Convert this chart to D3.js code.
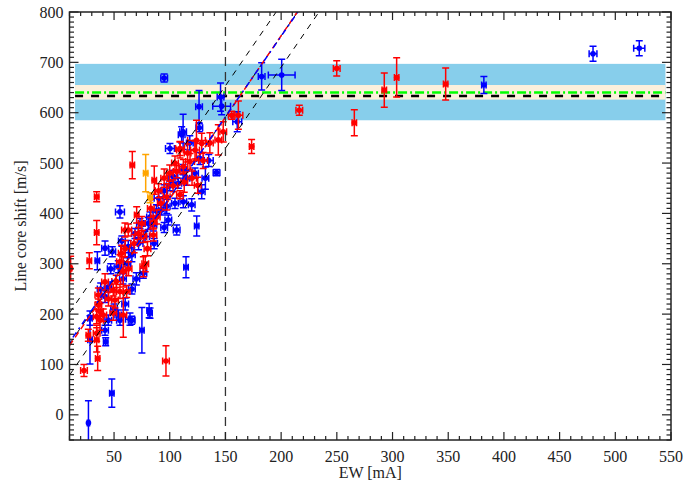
<!DOCTYPE html>
<html>
<head>
<meta charset="utf-8">
<script src="https://cdn.jsdelivr.net/npm/d3@7"></script>
<style>
  body { margin: 0; background: #fff; }
  text { font-family: "Liberation Serif", "DejaVu Serif", serif; }
</style>
</head>
<body>
<div id="chart"></div>
<script>
// EW vs line core shift
// each point: [EW, shift, EW error, shift error]
const bluePoints = [
  [95, 669, 3, 8], [182.5, 672, 3, 27], [200.5, 675, 12, 31], [382, 655, 2, 17],
  [480, 717, 3.5, 15], [521.5, 728, 5, 15], [27, -16, 1, 44], [48, 43, 2, 28],
  [75, 168, 2, 45], [81.5, 207, 2, 14], [82.3, 202, 2, 10], [114.6, 293, 2, 21],
  [64.3, 190, 4, 12], [124.2, 375, 2, 20], [142, 481, 3, 6], [145.6, 631, 3, 28],
  [146.6, 613, 8, 17], [126.3, 612, 3, 32], [126.5, 570, 3, 8], [112, 562, 3, 35],
  [160.6, 582, 4, 20], [100.2, 529, 4, 10],
  [92.8, 407, 3, 10], [82.3, 393, 3, 10], [80.7, 380, 3, 12], [98.7, 387, 3, 10],
  [104.7, 420, 3, 10], [112.2, 423, 3, 12], [107.7, 460, 3, 10], [103.2, 473, 4, 12],
  [122.7, 480, 3, 10], [128.7, 443, 3, 14], [127.2, 509, 3, 12], [110.7, 556, 3, 16],
  [119.7, 417, 3, 12], [97.3, 414, 3, 14], [106.2, 367, 3, 10], [77.8, 354, 4, 10],
  [55.3, 403, 4, 12], [73.3, 380, 3, 10], [85.3, 377, 3, 12], [95, 372, 3, 10],
  [68.8, 360, 3, 10], [62.8, 334, 3, 12], [48.4, 324, 3, 10], [41.9, 331, 3, 14],
  [35, 306, 2, 18], [76.3, 281, 3, 10], [53.8, 294, 3, 12], [44.8, 254, 3, 10],
  [41.9, 235, 3, 12], [28.4, 192, 2, 14], [44.8, 188, 3, 10], [53.8, 198, 3, 10],
  [65.8, 188, 3, 8], [55.3, 188, 3, 10], [41.9, 168, 3, 10], [42.5, 145, 2, 8],
  [28.4, 149, 2, 48], [60, 220, 3, 12], [66, 250, 3, 10], [70, 270, 3, 12],
  [58, 270, 3, 10], [62, 300, 3, 12], [66, 318, 3, 14], [72, 340, 4, 12],
  [88, 405, 3, 12], [90, 430, 4, 14], [95, 445, 3, 12], [100, 455, 3, 10],
  [115, 470, 3, 14], [118, 540, 3, 14], [112, 487, 3, 10], [132, 470, 3, 22],
  [135, 505, 4, 12], [86, 340, 3, 10], [50, 210, 3, 10], [38, 250, 3, 12],
  [47, 290, 3, 10], [57, 345, 3, 10]
];
const redPoints = [
  [11, 291, 1, 24], [27.8, 306, 2, 16], [23, 88, 3, 12], [34.4, 433, 2, 10],
  [34.4, 362, 2, 24], [96.6, 107, 3, 30], [26.9, 158, 2, 12], [35.3, 112, 2, 24],
  [34.4, 149, 2, 24], [66.4, 496, 2, 27], [86.1, 466, 2, 28], [70.3, 397, 2, 16],
  [62.8, 367, 3, 12], [97.3, 433, 3, 26], [88.3, 393, 3, 14], [85.3, 383, 3, 12],
  [109.2, 437, 3, 8], [106.2, 483, 3, 12], [112.2, 493, 4, 14], [118.2, 503, 4, 16],
  [125.1, 456, 3, 16], [104.7, 500, 3, 14], [109.2, 526, 3, 16], [122.7, 526, 4, 18],
  [128.7, 539, 6, 20], [85.3, 357, 3, 12], [71.8, 360, 3, 12], [124, 545, 8, 40],
  [148, 562, 3, 20], [143.6, 546, 3, 30], [109.2, 529, 4, 14], [155.6, 595, 3, 8],
  [161.6, 595, 4, 28], [173.5, 533, 2, 14], [216.3, 605, 3, 10], [249.9, 688, 3, 15],
  [265.7, 580, 2, 26], [292.6, 645, 2, 34], [303.7, 670, 2, 39], [347.7, 657, 2, 32],
  [56.9, 321, 3, 16], [59.8, 367, 3, 14], [76.3, 354, 3, 12], [76.3, 294, 3, 20],
  [58.3, 284, 3, 30], [55.3, 304, 3, 14], [41.9, 264, 3, 16], [49.3, 248, 3, 12],
  [55.3, 245, 3, 14], [61.3, 245, 3, 12], [50.8, 228, 3, 16], [35.9, 238, 3, 14],
  [35.9, 218, 3, 12], [37.4, 205, 3, 16], [34.4, 195, 3, 14], [37.4, 188, 3, 20],
  [49.3, 202, 3, 14], [58.3, 198, 3, 44], [40.3, 198, 3, 12], [34.4, 162, 3, 16],
  [45, 230, 3, 14], [52, 265, 4, 12], [63, 290, 3, 14], [60, 330, 4, 16],
  [68, 340, 3, 18], [78, 300, 3, 16], [80, 330, 3, 14], [90, 445, 3, 14],
  [95, 470, 3, 18], [100, 480, 3, 16], [103, 455, 4, 12], [113, 462, 3, 20],
  [120, 470, 4, 14], [116, 520, 3, 18], [92, 420, 3, 12], [83, 410, 3, 18],
  [75, 380, 3, 14], [130, 505, 4, 16], [136, 540, 3, 20]
];
const orangePoints = [
  [78.4, 480, 2, 37], [82.3, 431, 2, 10]
];

// horizontal bands and mean levels
const bandEW = [15, 545];
const outerBand = [585, 697];
const innerBand = [626, 655];
const greenLevel = 640;
const blackLevel = 633;

// linear relations: [slope, intercept]
const fitBlack = [[3.22, 170.5], [3.22, 108.5], [3.22, 46.5]];
const fitRed = [3.24, 105];
const fitBlue = [3.2, 112];
const fitEW = [10, 300];
const ewCut = 150;

const xTicks = [50, 100, 150, 200, 250, 300, 350, 400, 450, 500, 550];
const yTicks = [0, 100, 200, 300, 400, 500, 600, 700, 800];

const svgWidth = 694, svgHeight = 481;
const margin = { top: 12, right: 23, bottom: 41, left: 69.5 };
const width = svgWidth - margin.left - margin.right;
const height = svgHeight - margin.top - margin.bottom;

const svg = d3.select("#chart").append("svg")
    .attr("width", svgWidth)
    .attr("height", svgHeight)
    .append("g")
    .attr("transform", `translate(${margin.left},${margin.top})`);

const x = d3.scaleLinear().domain([10, 550]).range([0, width]);
const y = d3.scaleLinear().domain([-50, 800]).range([height, 0]);

svg.append("clipPath").attr("id", "clip")
    .append("rect").attr("width", width).attr("height", height);

const plot = svg.append("g").attr("clip-path", "url(#clip)");

// bands
plot.append("rect")
    .attr("x", x(bandEW[0])).attr("width", x(bandEW[1]) - x(bandEW[0]))
    .attr("y", y(outerBand[1])).attr("height", y(outerBand[0]) - y(outerBand[1]))
    .attr("fill", "#87ceeb");
plot.append("rect")
    .attr("x", x(bandEW[0])).attr("width", x(bandEW[1]) - x(bandEW[0]))
    .attr("y", y(innerBand[1])).attr("height", y(innerBand[0]) - y(innerBand[1]))
    .attr("fill", "#fcf0dc");

plot.append("line")
    .attr("x1", x(bandEW[0])).attr("x2", x(bandEW[1]))
    .attr("y1", y(blackLevel)).attr("y2", y(blackLevel))
    .attr("stroke", "#000").attr("stroke-width", 2.5).attr("stroke-dasharray", "8,8");
plot.append("line")
    .attr("x1", x(bandEW[0])).attr("x2", x(bandEW[1]))
    .attr("y1", y(greenLevel)).attr("y2", y(greenLevel))
    .attr("stroke", "#00ff00").attr("stroke-width", 2.5).attr("stroke-dasharray", "9,3,2,3");

// error bar points
function drawPoints(data, color) {
    const g = plot.append("g").selectAll("g").data(data).enter().append("g")
        .attr("stroke", color).attr("fill", color).attr("stroke-width", 1.5);
    const cap = 3.5;
    g.append("line")
        .attr("x1", d => x(d[0])).attr("x2", d => x(d[0]))
        .attr("y1", d => y(d[1] - d[3])).attr("y2", d => y(d[1] + d[3]));
    g.append("line")
        .attr("x1", d => x(d[0]) - cap).attr("x2", d => x(d[0]) + cap)
        .attr("y1", d => y(d[1] - d[3])).attr("y2", d => y(d[1] - d[3]));
    g.append("line")
        .attr("x1", d => x(d[0]) - cap).attr("x2", d => x(d[0]) + cap)
        .attr("y1", d => y(d[1] + d[3])).attr("y2", d => y(d[1] + d[3]));
    g.append("line")
        .attr("x1", d => x(d[0] - d[2])).attr("x2", d => x(d[0] + d[2]))
        .attr("y1", d => y(d[1])).attr("y2", d => y(d[1]));
    g.append("line")
        .attr("x1", d => x(d[0] - d[2])).attr("x2", d => x(d[0] - d[2]))
        .attr("y1", d => y(d[1]) - cap).attr("y2", d => y(d[1]) + cap);
    g.append("line")
        .attr("x1", d => x(d[0] + d[2])).attr("x2", d => x(d[0] + d[2]))
        .attr("y1", d => y(d[1]) - cap).attr("y2", d => y(d[1]) + cap);
    g.append("circle")
        .attr("cx", d => x(d[0])).attr("cy", d => y(d[1])).attr("r", 2.8)
        .attr("stroke", "none");
}
drawPoints(bluePoints, "#0000ff");
drawPoints(redPoints, "#ff0000");
drawPoints(orangePoints, "#ffa500");

// fit lines
const fitLine = (f, color, dash, w) => plot.append("line")
    .attr("x1", x(fitEW[0])).attr("y1", y(f[0] * fitEW[0] + f[1]))
    .attr("x2", x(fitEW[1])).attr("y2", y(f[0] * fitEW[1] + f[1]))
    .attr("stroke", color).attr("stroke-width", w).attr("stroke-dasharray", dash);
fitBlack.forEach(f => fitLine(f, "#000", "6,6", 1));
fitLine(fitRed, "#ff0000", "6,4", 1.5);
fitLine(fitBlue, "#0000ff", "2,4,6,4", 1.5);

plot.append("line")
    .attr("x1", x(ewCut)).attr("x2", x(ewCut))
    .attr("y1", 0).attr("y2", height)
    .attr("stroke", "#333").attr("stroke-width", 1.3).attr("stroke-dasharray", "9,6");

// frame and ticks
svg.append("rect").attr("width", width).attr("height", height)
    .attr("fill", "none").attr("stroke", "#222").attr("stroke-width", 1.5);

const xMinor = d3.range(10, 551, 10);
const yMinor = d3.range(-50, 801, 10);
const ticks = svg.append("g").attr("stroke", "#222").attr("stroke-width", 1.2);
xMinor.forEach(v => {
    const len = v % 50 === 0 ? 8 : 4;
    ticks.append("line").attr("x1", x(v)).attr("x2", x(v)).attr("y1", height).attr("y2", height - len);
    ticks.append("line").attr("x1", x(v)).attr("x2", x(v)).attr("y1", 0).attr("y2", len);
});
yMinor.forEach(v => {
    const len = v % 100 === 0 ? 9 : 4.5;
    ticks.append("line").attr("y1", y(v)).attr("y2", y(v)).attr("x1", 0).attr("x2", len);
    ticks.append("line").attr("y1", y(v)).attr("y2", y(v)).attr("x1", width).attr("x2", width - len);
});

svg.append("g").selectAll("text").data(xTicks).enter().append("text")
    .attr("x", d => x(d)).attr("y", height + 22)
    .attr("text-anchor", "middle").attr("font-size", 16).attr("fill", "#222")
    .text(d => d);
svg.append("g").selectAll("text").data(yTicks).enter().append("text")
    .attr("x", -6).attr("y", d => y(d) + 5.5)
    .attr("text-anchor", "end").attr("font-size", 16).attr("fill", "#222")
    .text(d => d);

svg.append("text")
    .attr("x", width / 2).attr("y", height + 38)
    .attr("text-anchor", "middle").attr("font-size", 16).attr("fill", "#222")
    .text("EW [mA]");
svg.append("text")
    .attr("transform", `translate(${-margin.left + 26},${height / 2}) rotate(-90)`)
    .attr("text-anchor", "middle").attr("font-size", 16).attr("fill", "#222")
    .text("Line core shift [m/s]");
</script>
</body>
</html>
